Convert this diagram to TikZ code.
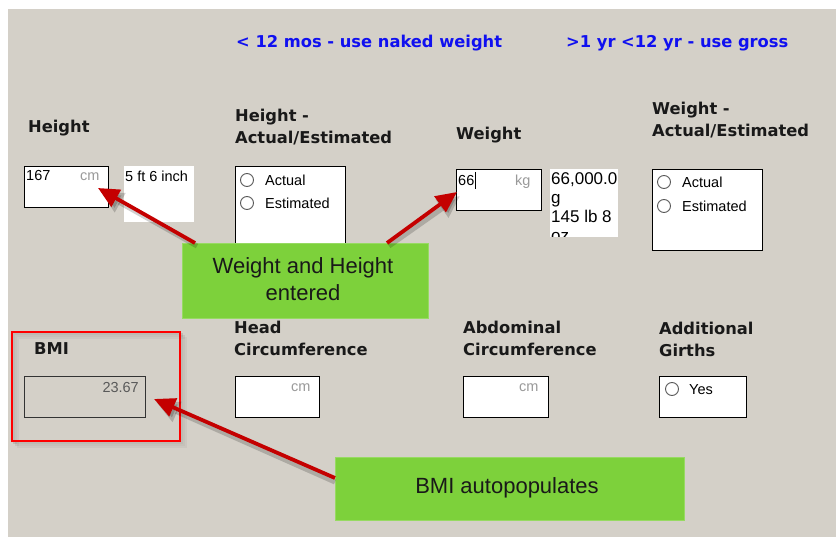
\documentclass[tikz,border=0pt]{standalone}
\usepackage{fontspec}
\setmainfont{Liberation Sans}
\newfontfamily\vfont{DejaVu Sans}
\usetikzlibrary{arrows.meta}
\definecolor{bg}{HTML}{D4D0C8}
\definecolor{lblue}{HTML}{1010F0}
\definecolor{callgreen}{HTML}{7DD13B}
\definecolor{arrred}{HTML}{C40000}
\definecolor{unitgray}{HTML}{9A9A9A}
\tikzset{
  lbl/.style={font=\vfont\bfseries\fontsize{16.3}{20}\selectfont, text=black!90, anchor=base west, inner sep=0},
  bluelbl/.style={lbl, text=lblue},
  small/.style={font=\fontsize{14.5}{16}\selectfont, anchor=base west, inner sep=0, text=black},
  conv/.style={small, font=\fontsize{17}{19}\selectfont},
  unit/.style={small, text=unitgray},
  field/.style={draw=black, fill=white, line width=1.3pt},
  radio/.style={draw=black!65, fill=white, line width=0.9pt},
  callout/.style={fill=callgreen, draw=callgreen!80!white, line width=0.6pt},
  calltext/.style={font=\fontsize{22}{25}\selectfont, text=black!90, inner sep=0},
  arr/.style={draw=arrred, line width=3.8pt, -{Triangle[length=21pt,width=19pt]}},
  arrshadow/.style={draw=black, opacity=0.18, line width=5pt, -{Triangle[length=22pt,width=21pt]}}
}
\begin{document}
\begin{tikzpicture}[x=1pt,y=-1pt]
\useasboundingbox (0,0) rectangle (836,537);
\fill[white] (0,0) rectangle (836,537);
\fill[bg] (8,9) rectangle (836,537);

% top blue notes
\node[bluelbl] (n1) at (236,48) {< 12 mos - use naked weight};
\node[bluelbl] (n2) at (566,48) {>1 yr <12 yr - use gross};

% Height
\node[lbl] (hl) at (28,133) {Height};
\node[field, minimum width=84pt, minimum height=41pt, anchor=north west, inner sep=0] (hbox) at (24,166) {};
\node[small] (hv) at (26,181) {167};
\node[unit] (hu) at (80,181) {cm};
\node[fill=white, minimum width=70pt, minimum height=56pt, anchor=north west, inner sep=0] (hconv) at (124,166) {};
\node[small] (hct) at (125,182) {5 ft 6 inch};

% Height actual/estimated
\node[lbl] (hae1) at (235,122) {Height -};
\node[lbl] (hae2) at (235,144) {Actual/Estimated};
\node[field, minimum width=110pt, minimum height=84pt, anchor=north west, inner sep=0] (haebox) at (235,166) {};
\node[radio, circle, minimum size=13pt, inner sep=0] (hr1) at (247,180) {};
\node[radio, circle, minimum size=13pt, inner sep=0] (hr2) at (247,203) {};
\node[small] (hr1t) at (265,186) {Actual};
\node[small] (hr2t) at (265,209) {Estimated};

% Weight
\node[lbl] (wl) at (456,140) {Weight};
\node[field, minimum width=85pt, minimum height=41pt, anchor=north west, inner sep=0] (wbox) at (456,169) {};
\node[small] (wv) at (458,186) {66};
\draw[black, line width=0.8pt] (475,172) -- (475,189);
\node[unit] (wu) at (515,186) {kg};
\node[fill=white, minimum width=68pt, minimum height=68pt, anchor=north west, inner sep=0] (wconv) at (550,169) {};
\begin{scope}
\clip (550,169) rectangle (618,237);
\node[conv] (wc1) at (551,185) {66,000.0};
\node[conv] (wc2) at (551,204) {g};
\node[conv] (wc3) at (551,223) {145 lb 8};
\node[conv] (wc4) at (551,242) {oz};
\end{scope}

% Weight actual/estimated
\node[lbl] (wae1) at (652,115) {Weight -};
\node[lbl] (wae2) at (652,137) {Actual/Estimated};
\node[field, minimum width=110pt, minimum height=81pt, anchor=north west, inner sep=0] (waebox) at (652,169) {};
\node[radio, circle, minimum size=13pt, inner sep=0] (wr1) at (664,182) {};
\node[radio, circle, minimum size=13pt, inner sep=0] (wr2) at (664,206) {};
\node[small] (wr1t) at (682,188) {Actual};
\node[small] (wr2t) at (682,212) {Estimated};

% BMI
\foreach \o/\a in {2/0.10,4/0.07,6/0.04}{
  \draw[black, opacity=\a, line width=2pt] (12+\o,332+\o) rectangle (180+\o,441+\o);
}
\draw[red, line width=2pt] (12,332) rectangle (180,441);
\node[lbl] (bl) at (34,355) {BMI};
\node[draw=black!80, fill=bg, line width=1.3pt, minimum width=121pt, minimum height=41pt, anchor=north west, inner sep=0] (bbox) at (24,376) {};
\node[small, anchor=base east, text=black!65] (bv) at (139,393) {23.67};

% Head circumference
\node[lbl] (hc1) at (234,334) {Head};
\node[lbl] (hc2) at (234,356) {Circumference};
\node[field, minimum width=84pt, minimum height=41pt, anchor=north west, inner sep=0] (hcbox) at (235,376) {};
\node[unit] (hcu) at (291,392) {cm};

% Abdominal circumference
\node[lbl] (ac1) at (463,334) {Abdominal};
\node[lbl] (ac2) at (463,356) {Circumference};
\node[field, minimum width=85pt, minimum height=41pt, anchor=north west, inner sep=0] (acbox) at (463,376) {};
\node[unit] (acu) at (519,392) {cm};

% Additional girths
\node[lbl] (ag1) at (659,335) {Additional};
\node[lbl] (ag2) at (659,357) {Girths};
\node[field, minimum width=87pt, minimum height=41pt, anchor=north west, inner sep=0] (agbox) at (659,376) {};
\node[radio, circle, minimum size=13pt, inner sep=0] (agr) at (672,389) {};
\node[small] (agt) at (689,395) {Yes};

% callouts
\node[callout, minimum width=246pt, minimum height=75pt, anchor=north west, inner sep=0] (g1) at (182,243) {};
\node[calltext] (g1a) at (303,268) {Weight and Height};
\node[calltext] (g1b) at (303,293) {entered};
\node[callout, minimum width=349pt, minimum height=63pt, anchor=north west, inner sep=0] (g2) at (335,457) {};
\node[calltext] (g2a) at (507,488) {BMI autopopulates};

% arrow ends
\coordinate (a1s) at (195,243);
\coordinate (a1e) at (98,188);
\coordinate (a2s) at (387,243);
\coordinate (a2e) at (457,192);
\coordinate (a3s) at (335,478);
\coordinate (a3e) at (154,399);
\coordinate (a1ss) at (197,246);
\coordinate (a1es) at (101,192);
\coordinate (a2ss) at (389,246);
\coordinate (a2es) at (460,196);
\coordinate (a3ss) at (335,482);
\coordinate (a3es) at (157,403);

\draw[arrshadow] (a1ss) -- (a1es);
\draw[arrshadow] (a2ss) -- (a2es);
\draw[arrshadow] (a3ss) -- (a3es);
\draw[arr] (a1s) -- (a1e);
\draw[arr] (a2s) -- (a2e);
\draw[arr] (a3s) -- (a3e);
\end{tikzpicture}
\end{document}
